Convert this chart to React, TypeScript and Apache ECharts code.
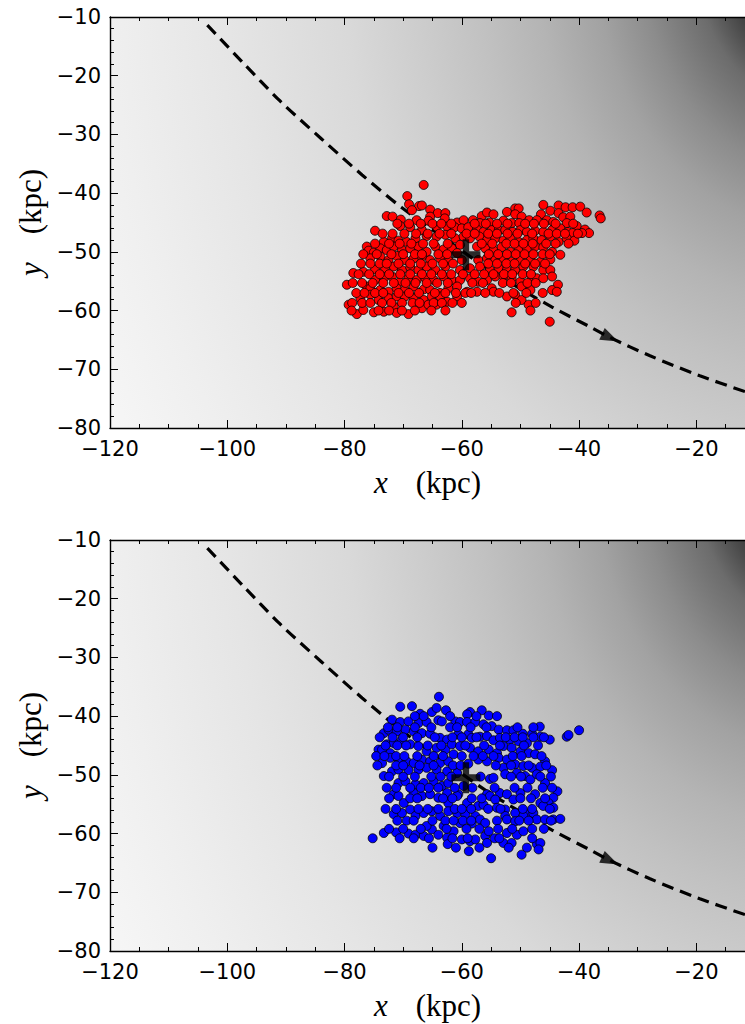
import React, { useEffect, useRef } from "react";
import * as echarts from "echarts";

// Axis extents (kpc)
const X_MIN = -120;
const X_MAX = -11.7;
const Y_MIN = -80;
const Y_MAX = -10;

// Potential shading: centre, outer radius, flattening (contours elongated along y),
// and grey level against effective radius (kpc)
const POT_CENTER = [0, 0];
const POT_RADIUS = 160;
const POT_STRETCH = 1.25;
const shadeRadii = [0, 8, 13, 20, 29, 37, 47, 57, 68, 80, 100, 120, 140, 160];
const shadeGrey = [15, 30, 55, 108, 140, 162, 180, 193, 205, 217, 229, 239, 248, 254];

// Orbit of the progenitor (dashed track)
const orbitX = [-103.4, -97.4, -91.0, -84.1, -77.0, -70.2, -62.5, -54.8, -44.6, -37.9, -34.7, -27.9, -19.4, -11.7];
const orbitY = [-11.4, -17.7, -24.3, -30.6, -36.9, -42.5, -48.0, -53.4, -59.4, -62.9, -64.6, -67.7, -71.1, -73.8];

// Direction arrow on the orbit
const arrowPoint = [-34.7, -64.6];
const arrowAngle = -25;

// Present-day progenitor position
const progenitor = [-59.3, -50.5];

// Particles, upper panel
const redStars = [
  [-66.5, -38.6], [-69.3, -40.5], [-69.0, -41.9], [-67.3, -42.2], [-66.8, -42.1], [-65.4, -42.8], [-50.9, -42.6], [-50.3, -42.6],
  [-46.1, -42.0], [-43.5, -42.1], [-42.3, -42.4], [-41.1, -42.4], [-39.8, -42.3], [-68.5, -42.9],
  [-72.8, -43.9], [-71.8, -44.0], [-70.4, -44.5], [-64.1, -43.4], [-62.8, -43.4], [-62.9, -44.3], [-65.4, -44.0], [-56.6, -43.9],
  [-55.7, -43.3], [-54.6, -43.6], [-52.3, -43.2], [-50.9, -43.6], [-49.8, -44.0], [-46.5, -43.6], [-44.9, -43.0], [-43.5, -43.4],
  [-42.7, -44.1], [-41.5, -44.0], [-38.7, -43.3], [-36.5, -43.8], [-36.3, -44.3],
  [-67.7, -44.6], [-65.7, -44.7], [-60.8, -45.0], [-59.7, -44.6], [-58.1, -44.6], [-56.9, -45.1], [-55.3, -45.0], [-52.9, -44.7],
  [-51.5, -45.1], [-50.2, -45.1], [-48.5, -44.6], [-47.2, -44.6], [-45.5, -44.6], [-44.4, -44.9], [-42.1, -45.1], [-40.4, -45.6],
  [-39.0, -46.2], [-38.3, -46.8],
  [-74.8, -46.4], [-70.5, -45.6], [-68.8, -45.8], [-66.8, -46.3], [-64.3, -45.7], [-62.5, -45.7], [-61.2, -45.8], [-60.0, -46.0],
  [-58.9, -45.8], [-57.4, -46.2], [-56.3, -46.6], [-54.9, -46.3], [-53.7, -46.3], [-52.6, -46.3], [-51.3, -46.6], [-50.0, -46.3],
  [-48.9, -46.6], [-47.5, -46.4], [-46.1, -46.6], [-44.6, -46.3], [-43.2, -46.0], [-41.9, -46.6], [-41.1, -46.8], [-39.5, -46.8],
  [-73.3, -48.3], [-71.9, -47.7], [-70.8, -48.1], [-69.4, -48.3], [-67.9, -47.7], [-66.0, -47.3], [-64.3, -47.4], [-62.8, -47.1],
  [-61.1, -47.7], [-59.7, -47.4], [-58.6, -47.7], [-57.0, -47.4], [-55.7, -48.0], [-54.3, -47.7], [-52.9, -48.1], [-51.7, -47.7],
  [-50.3, -48.3], [-48.9, -48.0], [-47.8, -47.7], [-46.4, -48.0], [-44.9, -47.4], [-43.5, -48.3], [-42.1, -47.7], [-40.8, -48.1],
  [-76.2, -49.1], [-75.9, -49.8], [-75.0, -50.1], [-73.9, -49.4], [-72.8, -49.7], [-71.6, -49.1], [-70.2, -49.7], [-68.8, -49.4],
  [-67.4, -49.1], [-66.0, -50.0], [-64.5, -49.1], [-63.1, -49.6], [-61.7, -49.4], [-56.0, -49.4], [-54.6, -49.7], [-53.2, -49.2],
  [-51.7, -50.0], [-50.3, -49.7], [-48.9, -49.4], [-47.5, -49.1], [-46.1, -49.2], [-44.6, -50.0], [-43.2, -50.5],
  [-60.3, -48.8], [-57.4, -49.1], [-60.0, -51.4], [-57.2, -51.4], [-60.8, -50.2],
  [-75.6, -51.1], [-73.9, -50.8], [-72.5, -51.4], [-71.1, -50.7], [-69.7, -51.4], [-68.2, -51.1], [-66.8, -50.8], [-65.4, -51.4],
  [-63.7, -51.1], [-62.3, -51.4], [-55.7, -51.1], [-54.3, -51.4], [-52.9, -51.1], [-51.5, -51.7], [-50.0, -51.5], [-48.3, -51.4],
  [-46.6, -51.7], [-44.9, -51.3],
  [-78.5, -53.6], [-76.8, -53.4], [-74.8, -53.0], [-73.1, -52.8], [-71.6, -52.5], [-70.2, -53.1], [-68.8, -52.6], [-67.4, -53.1],
  [-66.0, -52.5], [-64.5, -53.1], [-62.8, -52.5], [-60.3, -53.1], [-58.6, -52.8], [-56.9, -52.5], [-55.2, -53.1], [-53.7, -52.8],
  [-52.3, -53.1], [-50.9, -53.1], [-49.5, -52.5], [-47.8, -52.5], [-46.1, -53.1], [-44.9, -53.1],
  [-79.6, -55.6], [-76.2, -55.9], [-74.8, -54.8], [-73.3, -54.5], [-71.9, -54.2], [-70.5, -55.1], [-69.1, -54.5], [-67.7, -54.8],
  [-66.2, -54.5], [-64.8, -54.8], [-63.1, -54.2], [-61.7, -54.8], [-60.3, -54.8], [-58.6, -54.5], [-57.2, -55.1], [-55.7, -54.8],
  [-54.3, -54.2], [-52.9, -54.2], [-51.5, -54.5], [-50.0, -55.1], [-48.1, -54.2], [-47.2, -54.5], [-46.1, -54.5], [-44.6, -54.2],
  [-43.6, -55.6],
  [-75.6, -56.2], [-73.9, -56.5], [-72.5, -56.8], [-71.1, -56.2], [-69.7, -56.5], [-68.2, -55.9], [-66.5, -56.4], [-65.4, -56.5],
  [-63.7, -57.0], [-62.3, -56.2], [-60.8, -55.9], [-59.1, -56.8], [-57.4, -56.8], [-54.9, -56.2], [-54.6, -56.8], [-52.3, -57.6],
  [-50.9, -57.3], [-49.8, -55.9], [-48.3, -56.5], [-44.6, -56.5], [-43.8, -56.8],
  [-79.3, -59.0], [-78.7, -58.7], [-77.3, -57.9], [-75.6, -57.3], [-74.2, -58.2], [-72.5, -57.9], [-71.1, -57.6], [-69.7, -57.6],
  [-68.2, -57.9], [-66.5, -58.2], [-65.1, -57.6], [-63.7, -57.6], [-62.5, -58.5], [-60.8, -57.6], [-59.4, -57.0], [-49.8, -58.2],
  [-48.6, -59.0],
  [-77.9, -60.6], [-76.8, -59.9], [-75.0, -60.3], [-73.3, -60.2], [-71.6, -59.3], [-71.1, -60.4], [-69.1, -60.6], [-66.8, -59.6],
  [-65.7, -59.0], [-64.3, -59.0], [-51.5, -60.3], [-48.3, -60.0], [-45.0, -61.9],
  // filling between the rows above
  [-71.0, -45.2], [-69.0, -45.2], [-67.0, -45.2], [-65.0, -45.2], [-63.5, -45.2], [-61.8, -45.2], [-57.8, -45.2], [-55.9, -45.2],
  [-54.0, -45.2], [-52.2, -45.2], [-49.2, -45.2], [-47.7, -45.2], [-46.0, -45.2], [-44.0, -45.2], [-41.0, -45.2],
  [-73.5, -46.9], [-71.8, -46.9], [-69.8, -46.9], [-67.8, -46.9], [-65.8, -46.9], [-63.8, -46.9], [-61.8, -46.9], [-59.2, -46.9],
  [-57.8, -46.9], [-55.5, -46.9], [-54.0, -46.9], [-52.2, -46.9], [-50.5, -46.9], [-48.0, -46.9], [-45.2, -46.9], [-43.8, -46.9],
  [-42.4, -46.9], [-40.2, -46.9],
  [-74.8, -48.6], [-72.4, -48.6], [-70.6, -48.6], [-68.6, -48.6], [-66.6, -48.6], [-64.8, -48.6], [-62.4, -48.6], [-56.6, -48.6],
  [-54.8, -48.6], [-52.4, -48.6], [-51.0, -48.6], [-49.5, -48.6], [-47.9, -48.6], [-45.6, -48.6], [-44.0, -48.6], [-41.8, -48.6],
  [-76.8, -50.4], [-74.5, -50.4], [-72.0, -50.4], [-70.0, -50.4], [-68.0, -50.4], [-66.8, -50.4], [-64.0, -50.4], [-62.5, -50.4],
  [-55.4, -50.4], [-53.8, -50.4], [-52.3, -50.4], [-50.8, -50.4], [-49.3, -50.4], [-47.8, -50.4], [-46.2, -50.4], [-45.0, -50.4],
  [-77.2, -52.0], [-75.6, -52.0], [-74.0, -52.0], [-72.8, -52.0], [-70.8, -52.0], [-68.8, -52.0], [-67.0, -52.0], [-65.0, -52.0],
  [-63.2, -52.0], [-61.5, -52.0], [-55.5, -52.0], [-54.0, -52.0], [-52.4, -52.0], [-51.0, -52.0], [-49.2, -52.0], [-47.5, -52.0],
  [-45.8, -52.0],
  [-77.6, -53.8], [-75.8, -53.8], [-74.0, -53.8], [-72.4, -53.8], [-70.5, -53.8], [-68.8, -53.8], [-66.8, -53.8], [-65.2, -53.8],
  [-63.4, -53.8], [-61.8, -53.8], [-59.8, -53.8], [-57.8, -53.8], [-56.2, -53.8], [-54.6, -53.8], [-52.8, -53.8], [-51.4, -53.8],
  [-49.6, -53.8], [-48.2, -53.8],
  [-78.6, -55.3], [-77.0, -55.3], [-75.2, -55.3], [-73.4, -55.3], [-71.6, -55.3], [-69.6, -55.3], [-67.9, -55.3], [-66.0, -55.3],
  [-64.2, -55.3], [-62.4, -55.3], [-58.2, -55.3], [-56.4, -55.3], [-53.0, -55.3], [-51.6, -55.3], [-48.8, -55.3], [-47.4, -55.3],
  [-78.0, -57.0], [-76.6, -57.0], [-74.8, -57.0], [-73.4, -57.0], [-70.8, -57.0], [-69.0, -57.0], [-67.3, -57.0], [-64.6, -57.0],
  [-62.8, -57.0], [-61.0, -57.0], [-58.4, -57.0], [-56.0, -57.0], [-53.6, -57.0], [-51.2, -57.0], [-49.0, -57.0], [-46.2, -57.0],
  [-77.0, -58.7], [-75.6, -58.7], [-73.6, -58.7], [-72.0, -58.7], [-70.2, -58.7], [-68.4, -58.7], [-67.2, -58.7], [-64.8, -58.7],
  [-63.4, -58.7], [-61.6, -58.7], [-60.0, -58.7], [-50.8, -58.7], [-47.4, -58.7],
  [-78.8, -60.0], [-74.2, -60.0], [-72.4, -60.0], [-70.2, -60.0], [-68.0, -60.0], [-65.2, -60.0], [-62.8, -60.0],
];

// Particles, lower panel
const blueStars = [
  [-63.9, -36.7],
  [-70.5, -38.4], [-68.5, -38.3], [-67.1, -39.6], [-65.1, -39.3], [-64.3, -38.6], [-62.7, -39.0], [-58.6, -39.3], [-56.6, -39.0], [-55.4, -39.9],
  [-71.9, -40.6], [-70.5, -41.0], [-69.1, -40.9], [-67.4, -41.2], [-66.0, -41.0], [-64.0, -40.7], [-63.4, -40.9], [-61.1, -40.9],
  [-60.3, -41.0], [-59.1, -39.7], [-59.1, -41.0], [-57.7, -41.0], [-56.3, -41.4], [-54.9, -41.7], [-53.7, -42.3], [-52.3, -42.4],
  [-51.2, -42.4], [-49.6, -43.0], [-48.0, -43.0], [-46.7, -41.8], [-46.6, -43.5], [-45.0, -44.0], [-42.1, -43.5], [-41.8, -43.2], [-40.0, -42.4],
  [-73.3, -42.9], [-72.5, -42.3], [-71.1, -42.6], [-69.6, -42.3], [-68.2, -42.6], [-66.8, -42.9], [-65.4, -43.0], [-63.7, -43.7],
  [-62.5, -44.0], [-60.6, -43.1], [-58.9, -43.1], [-58.3, -43.7], [-56.9, -43.5], [-55.7, -43.4], [-54.6, -44.1], [-53.5, -43.7],
  [-51.8, -44.0], [-50.3, -44.3], [-48.9, -44.6],
  [-74.2, -45.7], [-73.6, -45.7], [-72.8, -44.8], [-72.2, -46.3], [-71.6, -44.6], [-70.2, -44.0], [-68.8, -44.8], [-67.4, -45.1],
  [-66.0, -46.0], [-64.3, -45.4], [-62.8, -45.7], [-61.7, -44.8], [-60.3, -45.1], [-58.6, -45.4], [-57.2, -46.0], [-55.4, -45.7],
  [-54.0, -46.3], [-52.9, -45.1], [-51.5, -45.4], [-50.0, -46.0], [-48.6, -46.3], [-47.5, -46.5], [-45.8, -47.7],
  [-73.6, -48.0], [-72.2, -47.1], [-70.8, -47.4], [-69.4, -47.7], [-68.2, -48.0], [-66.8, -47.4], [-65.4, -47.7], [-63.7, -48.0],
  [-62.3, -47.7], [-61.4, -46.5], [-58.9, -48.1], [-57.2, -47.4], [-55.7, -47.7], [-53.7, -47.1], [-52.3, -47.4], [-50.9, -48.2],
  [-49.5, -48.5], [-48.0, -48.8], [-46.6, -48.6], [-44.6, -49.2],
  [-73.3, -50.2], [-71.9, -49.4], [-70.8, -49.1], [-69.1, -49.2], [-67.4, -49.1], [-66.0, -48.8], [-64.3, -49.1], [-62.5, -49.4],
  [-60.8, -49.7], [-55.2, -50.7], [-54.6, -50.5], [-52.9, -48.8], [-52.6, -49.9], [-50.6, -49.7], [-49.2, -50.2], [-48.3, -50.8],
  [-47.2, -49.9], [-45.8, -51.4], [-43.7, -52.8],
  [-71.6, -53.3], [-70.8, -51.4], [-69.6, -51.1], [-67.9, -51.6], [-66.5, -51.4], [-64.8, -51.1], [-63.4, -51.9], [-62.3, -51.4],
  [-60.6, -53.3], [-59.7, -51.9], [-55.7, -53.3], [-55.2, -53.6], [-53.5, -53.1], [-52.3, -53.3], [-51.2, -54.2], [-50.0, -53.1],
  [-47.5, -53.3], [-44.4, -53.9], [-46.6, -54.8], [-45.2, -54.8],
  [-70.8, -53.6], [-69.9, -54.8], [-68.2, -53.1], [-66.8, -53.6], [-65.4, -53.3], [-64.0, -53.9], [-62.5, -53.1], [-60.8, -53.6],
  [-62.3, -54.8], [-59.1, -54.8], [-57.2, -55.3], [-56.3, -55.1], [-54.3, -54.2], [-54.0, -55.6], [-52.6, -55.9], [-50.9, -56.5],
  [-48.9, -56.7], [-47.8, -56.5], [-46.1, -55.3], [-44.4, -55.6], [-44.4, -57.6], [-43.2, -57.5],
  [-71.6, -56.7], [-70.2, -56.5], [-68.8, -55.9], [-67.9, -57.0], [-66.5, -56.5], [-65.1, -56.2], [-63.7, -57.0], [-62.3, -56.2],
  [-60.8, -56.5], [-59.4, -56.7], [-57.7, -57.0], [-56.9, -57.6], [-56.0, -58.2], [-52.6, -57.0], [-52.3, -57.6], [-50.9, -57.9],
  [-49.5, -57.0], [-47.2, -57.6], [-45.8, -57.6],
  [-73.3, -59.9], [-75.2, -60.8], [-71.2, -59.8], [-69.1, -60.0], [-67.9, -60.2], [-66.5, -60.4], [-65.1, -59.3], [-64.0, -60.2],
  [-62.5, -60.7], [-61.4, -59.6], [-60.0, -61.0], [-58.6, -61.3], [-57.7, -61.0], [-56.0, -60.4], [-55.7, -61.6], [-52.3, -59.9],
  [-50.6, -60.2], [-49.5, -59.6], [-52.9, -61.6], [-51.5, -61.6], [-48.9, -62.4], [-47.2, -61.8], [-46.6, -61.6], [-49.8, -63.6],
  [-46.9, -62.7], [-55.0, -64.2], [-58.8, -63.0], [-62.4, -61.8], [-66.0, -58.7], [-63.1, -58.7], [-60.3, -58.2], [-58.3, -58.3],
  [-55.4, -59.6],
  // filling between the rows above
  [-68.0, -40.0], [-66.5, -40.0], [-62.0, -40.0], [-57.5, -40.0], [-54.0, -40.0],
  [-72.6, -41.9], [-71.0, -41.9], [-68.0, -41.9], [-65.2, -41.9], [-62.0, -41.9], [-60.8, -41.9], [-58.5, -41.9], [-55.8, -41.9],
  [-50.5, -41.9], [-47.8, -41.9],
  [-74.0, -43.6], [-71.8, -43.6], [-70.0, -43.6], [-67.6, -43.6], [-64.6, -43.6], [-61.6, -43.6], [-60.0, -43.6], [-57.5, -43.6],
  [-52.5, -43.6], [-51.0, -43.6], [-49.6, -43.6], [-47.8, -43.6], [-46.0, -43.6],
  [-73.0, -45.0], [-71.0, -45.0], [-69.5, -45.0], [-65.8, -45.0], [-63.5, -45.0], [-59.4, -45.0], [-56.2, -45.0], [-53.5, -45.0],
  [-49.4, -45.0], [-47.0, -45.0],
  [-74.6, -46.8], [-73.2, -46.8], [-71.2, -46.8], [-69.8, -46.8], [-67.6, -46.8], [-64.8, -46.8], [-63.2, -46.8], [-60.0, -46.8],
  [-58.0, -46.8], [-56.4, -46.8], [-54.6, -46.8], [-51.3, -46.8], [-49.8, -46.8], [-46.4, -46.8],
  [-74.4, -48.4], [-71.2, -48.4], [-70.0, -48.4], [-67.2, -48.4], [-64.8, -48.4], [-61.5, -48.4], [-60.2, -48.4], [-54.2, -48.4],
  [-51.6, -48.4], [-48.6, -48.4], [-45.6, -48.4],
  [-72.4, -50.3], [-70.0, -50.3], [-68.0, -50.3], [-65.2, -50.3], [-63.6, -50.3], [-61.8, -50.3], [-56.8, -50.3], [-51.6, -50.3],
  [-49.9, -50.3], [-46.6, -50.3], [-44.8, -50.3],
  [-72.8, -52.2], [-71.2, -52.2], [-68.8, -52.2], [-67.0, -52.2], [-65.6, -52.2], [-64.0, -52.2], [-61.2, -52.2], [-58.2, -52.2],
  [-54.4, -52.2], [-51.0, -52.2], [-48.8, -52.2], [-46.2, -52.2], [-44.6, -52.2],
  [-72.4, -54.0], [-68.8, -54.0], [-67.6, -54.0], [-63.2, -54.0], [-61.6, -54.0], [-58.3, -54.0], [-56.6, -54.0], [-50.0, -54.0],
  [-48.2, -54.0], [-45.8, -54.0],
  [-73.0, -55.8], [-71.2, -55.8], [-67.4, -55.8], [-65.8, -55.8], [-64.0, -55.8], [-61.2, -55.8], [-60.0, -55.8], [-58.4, -55.8],
  [-55.5, -55.8], [-53.4, -55.8], [-49.6, -55.8], [-48.0, -55.8], [-45.0, -55.8],
  [-71.0, -57.8], [-69.4, -57.8], [-68.2, -57.8], [-65.0, -57.8], [-62.8, -57.8], [-61.4, -57.8], [-59.8, -57.8], [-58.4, -57.8],
  [-54.0, -57.8], [-50.2, -57.8], [-48.6, -57.8], [-44.8, -57.8],
  [-72.4, -59.2], [-70.0, -59.2], [-67.0, -59.2], [-62.6, -59.2], [-59.2, -59.2], [-57.0, -59.2], [-53.8, -59.2], [-51.4, -59.2],
  [-48.0, -59.2], [-46.0, -59.2],
  [-70.6, -60.8], [-68.2, -60.8], [-65.6, -60.8], [-61.6, -60.8], [-59.0, -60.8], [-54.4, -60.8], [-53.6, -60.8], [-48.0, -60.8],
  [-65.0, -62.4], [-61.0, -62.4], [-57.0, -62.4], [-52.0, -62.4],
];

const minus = (v: number) => String(v).replace("-", "\u2212");

const PLUS_PATH = "path://M0,3.5H3.5V0H5.5V3.5H9V5.5H5.5V9H3.5V5.5H0Z";
const ARROW_PATH = "path://M0,0L10,5L0,10Z";

function potentialStops() {
  return shadeRadii.map((r, i) => {
    const g = shadeGrey[i];
    return { offset: r / POT_RADIUS, color: `rgb(${g},${g},${g})` };
  });
}

function panelSeries(xIdx: number, yIdx: number, stars: number[][], fill: string) {
  return [
    {
      type: "custom",
      xAxisIndex: xIdx,
      yAxisIndex: yIdx,
      clip: true,
      silent: true,
      z: 0,
      data: [POT_CENTER],
      renderItem: (_p: any, api: any) => {
        const c = api.coord([api.value(0), api.value(1)]);
        const rx = api.size([POT_RADIUS, 0])[0];
        const ry = api.size([0, POT_RADIUS * POT_STRETCH])[1];
        return {
          type: "circle",
          x: c[0],
          y: c[1],
          scaleY: ry / rx,
          shape: { cx: 0, cy: 0, r: rx },
          style: {
            fill: new echarts.graphic.RadialGradient(0.5, 0.5, 0.5, potentialStops()),
          },
        };
      },
    },
    {
      type: "line",
      xAxisIndex: xIdx,
      yAxisIndex: yIdx,
      z: 2,
      smooth: 0.3,
      symbol: "none",
      silent: true,
      data: orbitX.map((x, i) => [x, orbitY[i]]),
      lineStyle: { color: "#000", width: 3.2, type: [12, 7], cap: "butt" },
    },
    {
      type: "scatter",
      xAxisIndex: xIdx,
      yAxisIndex: yIdx,
      z: 3,
      silent: true,
      symbol: "circle",
      symbolSize: 9,
      data: stars,
      itemStyle: { color: fill, borderColor: "#000", borderWidth: 0.8, opacity: 1 },
    },
    {
      type: "scatter",
      xAxisIndex: xIdx,
      yAxisIndex: yIdx,
      z: 4,
      silent: true,
      symbol: ARROW_PATH,
      symbolSize: [18, 13],
      symbolRotate: arrowAngle,
      data: [arrowPoint],
      itemStyle: { color: "#000" },
    },
    {
      type: "scatter",
      xAxisIndex: xIdx,
      yAxisIndex: yIdx,
      z: 5,
      silent: true,
      symbol: PLUS_PATH,
      symbolSize: [29, 31],
      data: [progenitor],
      itemStyle: { color: "#000" },
    },
  ];
}

const tickFont = { fontFamily: "DejaVu Sans", fontSize: 21, color: "#000" };

const nameRich = {
  i: { fontFamily: "Liberation Serif", fontStyle: "italic", fontSize: 31, color: "#000", lineHeight: 34 },
  g: { width: 28 },
  n: { fontFamily: "Liberation Serif", fontSize: 31, color: "#000", lineHeight: 34 },
};

function xAxes(gridIndex: number) {
  const common = {
    type: "value",
    gridIndex,
    min: X_MIN,
    max: X_MAX,
    interval: 20,
    splitLine: { show: false },
    axisLine: { show: true, onZero: false, lineStyle: { color: "#000", width: 1.4 } },
    axisTick: { show: true, inside: true, length: 8, lineStyle: { color: "#000", width: 1 } },
    minorTick: { show: true, splitNumber: 4, length: 4, lineStyle: { color: "#000", width: 1 } },
  };
  return [
    {
      ...common,
      position: "bottom",
      axisLabel: {
        ...tickFont,
        margin: 10,
        showMaxLabel: false,
        formatter: (v: number) => (v > -15 ? "" : minus(v)),
      },
      name: "{i|x}{g|}{n|(kpc)}",
      nameLocation: "middle",
      nameGap: 37,
      nameTextStyle: { rich: nameRich },
    },
    { ...common, position: "top", axisLabel: { show: false } },
  ];
}

function yAxis(gridIndex: number) {
  return {
    type: "value",
    gridIndex,
    min: Y_MIN,
    max: Y_MAX,
    interval: 10,
    position: "left",
    splitLine: { show: false },
    axisLine: { show: true, onZero: false, lineStyle: { color: "#000", width: 1.4 } },
    axisTick: { show: true, inside: true, length: 8, lineStyle: { color: "#000", width: 1 } },
    minorTick: { show: true, splitNumber: 5, length: 4, lineStyle: { color: "#000", width: 1 } },
    axisLabel: { ...tickFont, margin: 9, formatter: (v: number) => minus(v) },
    name: "{i|y}{g|}{n|(kpc)}",
    nameLocation: "middle",
    nameRotate: 90,
    nameGap: 60,
    nameTextStyle: { rich: nameRich },
  };
}

export default function App() {
  const ref = useRef<HTMLDivElement>(null);

  useEffect(() => {
    if (!ref.current) return;
    const chart = echarts.init(ref.current, undefined, { renderer: "svg" });
    chart.setOption({
      animation: false,
      backgroundColor: "#fff",
      grid: [
        { left: 110, top: 17, width: 635, height: 411 },
        { left: 110, top: 540, width: 635, height: 411 },
      ],
      xAxis: [...xAxes(0), ...xAxes(1)],
      yAxis: [yAxis(0), yAxis(1)],
      series: [
        ...panelSeries(0, 0, redStars, "#ff0000"),
        ...panelSeries(2, 1, blueStars, "#0000ff"),
      ],
    });
    return () => chart.dispose();
  }, []);

  return (
    <div
      ref={ref}
      style={{ position: "absolute", left: 0, top: 0, width: 745, height: 1024 }}
    />
  );
}
